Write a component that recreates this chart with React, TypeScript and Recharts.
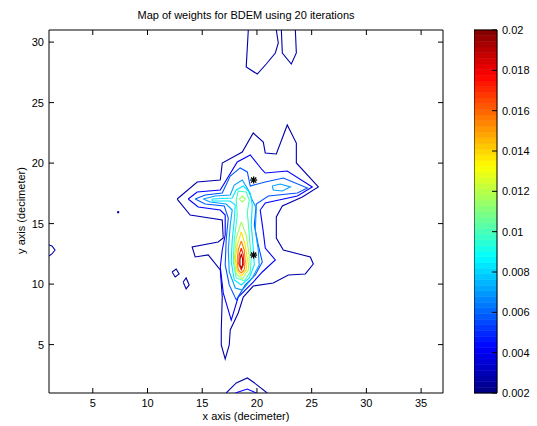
import React from 'react';
import { ScatterChart, Scatter, XAxis, YAxis, ReferenceArea } from 'recharts';

// axis ticks
const xTicks = [5, 10, 15, 20, 25, 30, 35];
const yTicks = [5, 10, 15, 20, 25, 30];
const cbTicks = [0.002, 0.004, 0.006, 0.008, 0.01, 0.012, 0.014, 0.016, 0.018, 0.02];

// contour lines, [x, y] in decimeter
const outerMain = [
  [12.71, 17.03], [14.54, 18.44], [16.65, 18.6], [16.83, 20.01], [18.66, 20.92], [19.66, 22.49],
  [20.58, 21.74], [20.76, 20.84], [21.77, 20.75], [22.77, 23.15], [23.6, 21.66], [23.6, 20.01],
  [25.61, 18.03], [24.15, 17.2], [22.32, 16.46], [21.77, 15.55], [21.77, 13.81], [22.41, 12.82],
  [24.88, 12.24], [25.15, 11.66], [24.42, 10.84], [22.87, 10.75], [21.49, 10.09], [19.66, 9.84],
  [18.75, 8.93], [18.29, 7.61], [17.56, 6.21], [17.47, 4.97], [17.1, 3.81], [16.74, 4.97],
  [16.74, 6.21], [16.83, 8.93], [16.65, 11.17], [15.55, 12.41], [14.36, 12.24], [14.08, 13.07],
  [16.46, 13.48], [16.92, 13.81], [16.83, 15.3], [13.9, 15.71], [12.71, 17.03],
];
const outerTopA = [[19.21, 31], [19.02, 27.94], [20.03, 27.36], [20.85, 28.19], [21.68, 29.1], [21.95, 29.93], [21.77, 31]];
const outerTopB = [[22.23, 31], [22.32, 29.1], [23.14, 28.19], [23.6, 29.1], [23.51, 31]];
const outerBottom = [[17.19, 1], [18.11, 1.83], [19.12, 2.24], [19.66, 1.91], [20.94, 1]];
const outerEdge = [[1, 13.23], [1.27, 13.15], [1.55, 12.82], [1.27, 12.49], [1, 12.32]];
const outerDot = [[7.27, 16.0], [7.36, 16.0], [7.36, 15.9], [7.27, 15.9], [7.27, 16.0]];
const outerIsle1 = [[12.25, 11.0], [12.62, 11.25], [12.89, 10.84], [12.53, 10.59], [12.25, 11.0]];
const outerIsle2 = [[13.26, 10.17], [13.53, 10.51], [13.81, 9.93], [13.53, 9.6], [13.26, 10.17]];

const level2Main = [
  [13.72, 17.03], [14.54, 17.61], [16.65, 17.78], [18.2, 20.09], [19.39, 20.67], [20.49, 19.43],
  [20.76, 19.18], [22.77, 19.35], [25.06, 18.03], [23.69, 17.28], [20.76, 16.7], [20.3, 16.12],
  [20.58, 14.31], [20.76, 12.98], [21.68, 11.99], [20.49, 11.0], [19.66, 10.17], [18.93, 9.51],
  [18.29, 8.93], [17.65, 7.03], [16.92, 9.27], [16.65, 11.41], [16.83, 12.82], [17.1, 14.06],
  [17.1, 15.71], [16.65, 16.12], [14.63, 16.37], [13.72, 17.03],
];
const level2Bottom = [[18.02, 1], [19.12, 1.33], [19.94, 1]];

const level3Main = [
  [14.36, 17.03], [15.27, 17.36], [16.83, 17.53], [17.56, 18.93], [18.47, 19.6], [19.12, 19.27],
  [19.39, 18.11], [20.76, 18.44], [22.41, 18.77], [24.61, 17.94], [23.69, 17.53], [21.04, 17.28],
  [19.94, 16.62], [19.76, 14.88], [20.12, 13.23], [20.49, 11.83], [19.85, 10.75], [18.93, 9.93],
  [18.11, 8.69], [17.47, 9.93], [17.1, 11.58], [17.19, 13.64], [17.38, 15.46], [17.01, 16.46],
  [15.27, 16.62], [14.36, 17.03],
];

const level4Main = [
  [15.09, 17.03], [16.19, 17.28], [17.56, 17.36], [17.93, 18.19], [18.66, 18.6], [19.21, 17.78],
  [19.57, 16.95], [19.94, 16.29], [19.85, 14.47], [20.12, 12.82], [20.21, 11.58], [19.57, 10.51],
  [18.66, 9.51], [18.02, 9.68], [17.47, 11.0], [17.38, 12.82], [17.56, 14.88], [17.74, 16.12],
  [17.19, 16.62], [15.73, 16.79], [15.09, 17.03],
];
const level4Arm = [[21.4, 18.11], [22.13, 18.27], [23.05, 18.03], [22.32, 17.7], [21.49, 17.78], [21.4, 18.11]];

const level5Main = [
  [15.91, 17.03], [17.74, 17.12], [18.11, 17.78], [18.75, 18.11], [19.39, 17.53], [19.57, 16.54],
  [19.48, 14.88], [19.66, 12.98], [19.76, 11.58], [19.3, 10.51], [18.57, 9.93], [17.93, 10.34],
  [17.65, 11.83], [17.74, 13.64], [17.93, 15.3], [18.02, 16.54], [17.56, 16.87], [15.91, 16.87],
  [15.91, 17.03],
];

const level6Main = [
  [18.29, 17.7], [19.02, 17.61], [19.3, 16.95], [19.12, 15.96], [19.3, 14.06], [19.48, 12.16],
  [19.39, 11.0], [18.84, 10.26], [18.11, 10.51], [17.83, 11.83], [17.93, 13.64], [18.2, 15.71],
  [18.11, 16.95], [18.29, 17.7],
];

const level7Main = [
  [18.57, 15.13], [19.02, 14.06], [19.3, 12.32], [19.21, 11.17], [18.66, 10.42], [18.11, 10.84],
  [17.93, 11.99], [18.11, 13.81], [18.57, 15.13],
];
const level7Top = [[18.38, 17.03], [18.66, 17.28], [18.93, 17.03], [18.66, 16.79], [18.38, 17.03]];

const level8Main = [
  [18.57, 14.31], [18.93, 13.23], [19.12, 12.07], [19.02, 11.17], [18.57, 10.67], [18.2, 11.08],
  [18.02, 12.07], [18.2, 13.23], [18.57, 14.31],
];
const level9Main = [
  [18.57, 13.56], [18.84, 12.82], [18.93, 11.91], [18.84, 11.17], [18.57, 10.92], [18.29, 11.17],
  [18.2, 11.91], [18.29, 12.82], [18.57, 13.56],
];
const level10Main = [
  [18.57, 12.98], [18.75, 12.41], [18.8, 11.66], [18.57, 11.17], [18.34, 11.66], [18.38, 12.41], [18.57, 12.98],
];
const level11Main = [
  [18.57, 12.49], [18.69, 12.07], [18.69, 11.58], [18.57, 11.33], [18.45, 11.58], [18.45, 12.07], [18.57, 12.49],
];

const stars = [[19.7, 18.6], [19.7, 12.4]];

const levelColors = ['#0000AA', '#0000FF', '#0055FF', '#00A0FF', '#00E8FF', '#40FFBF', '#A0FF60', '#FFE000', '#FF8000', '#FF2000', '#B00000'];

const contours: { level: number; pts: number[][] }[] = [
  { level: 0, pts: outerMain }, { level: 0, pts: outerTopA }, { level: 0, pts: outerTopB },
  { level: 0, pts: outerBottom }, { level: 0, pts: outerEdge }, { level: 0, pts: outerDot },
  { level: 0, pts: outerIsle1 }, { level: 0, pts: outerIsle2 },
  { level: 1, pts: level2Main }, { level: 1, pts: level2Bottom },
  { level: 2, pts: level3Main },
  { level: 3, pts: level4Main }, { level: 3, pts: level4Arm },
  { level: 4, pts: level5Main },
  { level: 5, pts: level6Main },
  { level: 6, pts: level7Main }, { level: 6, pts: level7Top },
  { level: 7, pts: level8Main },
  { level: 8, pts: level9Main },
  { level: 9, pts: level10Main },
  { level: 10, pts: level11Main },
];

const toXY = (a: number[][]) => a.map(([x, y]) => ({ x, y }));

const jet = (t: number) => {
  const c = (v: number) => Math.round(255 * Math.max(0, Math.min(1, v)));
  return `rgb(${c(1.5 - Math.abs(4 * t - 3))},${c(1.5 - Math.abs(4 * t - 2))},${c(1.5 - Math.abs(4 * t - 1))})`;
};
const stripes = Array.from({ length: 64 }, (_, i) => i);
const cbMin = 0.002;
const cbMax = 0.02;
const cbCorners = [{ x: 0, y: cbMin }, { x: 1, y: cbMax }];

const NoDot = () => <g />;
const NoTick = () => <g />;
const Asterisk = (props: any) => {
  const { cx, cy } = props;
  const r = 3.5;
  const d = 2.6;
  return (
    <g stroke="#000" strokeWidth={1.3}>
      <line x1={cx - r} y1={cy} x2={cx + r} y2={cy} />
      <line x1={cx} y1={cy - r} x2={cx} y2={cy + r} />
      <line x1={cx - d} y1={cy - d} x2={cx + d} y2={cy + d} />
      <line x1={cx - d} y1={cy + d} x2={cx + d} y2={cy - d} />
    </g>
  );
};

const font = '"Liberation Sans", Arial, Helvetica, sans-serif';
const tickStyle = { fill: '#000', fontSize: 11, fontFamily: font };

export default function App() {
  return (
    <div style={{ position: 'absolute', left: 0, top: 0, width: 537, height: 426, background: '#fff', fontFamily: font, color: '#000' }}>
      <div style={{ position: 'absolute', left: 49, top: 9, width: 394, textAlign: 'center', fontSize: 11, lineHeight: '13px' }}>
        Map of weights for BDEM using 20 iterations
      </div>
      <div style={{ position: 'absolute', left: 49, top: 410, width: 394, textAlign: 'center', fontSize: 11, lineHeight: '13px' }}>
        x axis (decimeter)
      </div>
      <div style={{ position: 'absolute', left: 21 - 100, top: 211 - 7, width: 200, textAlign: 'center', fontSize: 11, lineHeight: '13px', transform: 'rotate(-90deg)' }}>
        y axis (decimeter)
      </div>

      <div style={{ position: 'absolute', left: 0, top: 0 }}>
        <ScatterChart width={460} height={426} margin={{ top: 0, right: 0, bottom: 0, left: 0 }}>
          <XAxis type="number" dataKey="x" domain={[1, 37]} ticks={xTicks} allowDataOverflow height={33}
            tickSize={-5} tickMargin={11} stroke="#000" tick={tickStyle} />
          <XAxis xAxisId="top" orientation="top" type="number" dataKey="x" domain={[1, 37]} ticks={xTicks}
            allowDataOverflow height={30} tickSize={-5} stroke="#000" tick={NoTick} />
          <YAxis type="number" dataKey="y" domain={[1, 31]} ticks={yTicks} allowDataOverflow width={49}
            tickSize={-5} tickMargin={10} stroke="#000" tick={tickStyle} />
          <YAxis yAxisId="right" orientation="right" type="number" dataKey="y" domain={[1, 31]} ticks={yTicks}
            allowDataOverflow width={17} tickSize={-5} stroke="#000" tick={NoTick} />
          {contours.map((c, i) => (
            <Scatter key={i} data={toXY(c.pts)} shape={NoDot} isAnimationActive={false}
              line={{ stroke: levelColors[c.level], strokeWidth: 1.1 }} lineType="joint" />
          ))}
          <Scatter data={toXY(stars)} shape={Asterisk} isAnimationActive={false} />
        </ScatterChart>
      </div>

      <div style={{ position: 'absolute', left: 474, top: 0 }}>
        <ScatterChart width={63} height={426} margin={{ top: 30, right: 0, bottom: 33, left: 0 }}>
          <XAxis type="number" dataKey="x" domain={[0, 1]} hide />
          <YAxis type="number" dataKey="y" orientation="right" domain={[cbMin, cbMax]} ticks={cbTicks}
            width={40} tickSize={-5} tickMargin={10} axisLine={false} tickLine={{ stroke: '#000' }} tick={tickStyle}
            tickFormatter={(v: number) => String(v)} />
          <Scatter data={cbCorners} shape={NoDot} isAnimationActive={false} />
          {stripes.map((i) => (
            <ReferenceArea key={i} x1={0} x2={1}
              y1={cbMin + ((cbMax - cbMin) * i) / 64} y2={cbMin + ((cbMax - cbMin) * (i + 1)) / 64}
              fill={jet((i + 0.5) / 64)} fillOpacity={1} stroke={jet((i + 0.5) / 64)} strokeWidth={0.6}
              ifOverflow="visible" />
          ))}
          <ReferenceArea x1={0} x2={1} y1={cbMin} y2={cbMax} fill="none" stroke="#000" strokeWidth={1} ifOverflow="visible" />
        </ScatterChart>
      </div>
    </div>
  );
}
